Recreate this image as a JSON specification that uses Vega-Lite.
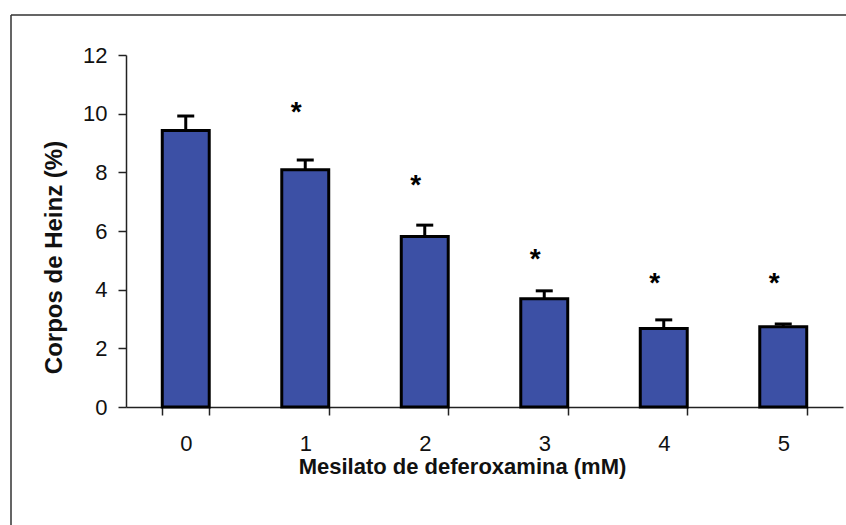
{
  "$schema": "https://vega.github.io/schema/vega-lite/v6.json",
  "autosize": {"type": "none"},
  "padding": {"left": 11, "top": 15, "right": 0, "bottom": 0},
  "width": 835,
  "height": 510,
  "background": "white",
  "config": {
    "view": {"stroke": "#333333", "strokeWidth": 1.5, "strokeDash": [835, 1345, 510, 0]},
    "font": "Liberation Sans",
    "axis": {
      "domainColor": "#222222",
      "domainWidth": 1.5,
      "tickColor": "#222222",
      "tickWidth": 1.5,
      "tickSize": 8,
      "labelFont": "Liberation Sans",
      "labelFontSize": 22,
      "labelColor": "#111111",
      "titleFont": "Liberation Sans",
      "titleFontWeight": "bold",
      "titleColor": "#111111",
      "grid": false
    }
  },
  "data": {
    "values": [
      {"dose": "0", "mean": 9.43, "upper": 9.92, "star": "", "star_y": 0},
      {"dose": "1", "mean": 8.09, "upper": 8.42, "star": "*", "star_y": 10.26},
      {"dose": "2", "mean": 5.81, "upper": 6.2, "star": "*", "star_y": 7.77},
      {"dose": "3", "mean": 3.69, "upper": 3.96, "star": "*", "star_y": 5.25},
      {"dose": "4", "mean": 2.68, "upper": 2.97, "star": "*", "star_y": 4.44},
      {"dose": "5", "mean": 2.74, "upper": 2.83, "star": "*", "star_y": 4.44}
    ]
  },
  "encoding": {
    "x": {
      "field": "dose",
      "type": "nominal",
      "sort": null,
      "scale": {"range": [115, 832], "paddingInner": 0.607, "paddingOuter": 0.3035},
      "axis": {
        "title": "Mesilato de deferoxamina (mM)",
        "titleFontSize": 22,
        "labelAngle": 0,
        "labelPadding": 18,
        "titlePadding": 2,
        "tickBand": "extent",
        "offset": -118,
        "titleX": 451
      }
    }
  },
  "layer": [
    {
      "mark": {"type": "rule", "color": "black", "strokeWidth": 3},
      "encoding": {
        "y": {"field": "mean", "type": "quantitative"},
        "y2": {"field": "upper"}
      }
    },
    {
      "mark": {"type": "tick", "color": "black", "thickness": 3, "size": 17, "opacity": 1},
      "encoding": {
        "y": {"field": "upper", "type": "quantitative"}
      }
    },
    {
      "mark": {"type": "bar", "fill": "#3c50a5", "stroke": "black", "strokeWidth": 3},
      "encoding": {
        "y": {
          "field": "mean",
          "type": "quantitative",
          "scale": {"domain": [0, 12], "range": [392, 40], "nice": false},
          "axis": {
            "title": "Corpos de Heinz (%)",
            "titleFontSize": 24,
            "values": [0, 2, 4, 6, 8, 10, 12],
            "labelPadding": 11,
            "titlePadding": 16,
            "offset": -115,
            "titleY": 242
          }
        }
      }
    },
    {
      "mark": {"type": "text", "fontSize": 28, "fontWeight": "bold", "color": "black", "dx": -9, "dy": 15, "baseline": "alphabetic"},
      "encoding": {
        "y": {"field": "star_y", "type": "quantitative"},
        "text": {"field": "star"}
      }
    }
  ]
}
